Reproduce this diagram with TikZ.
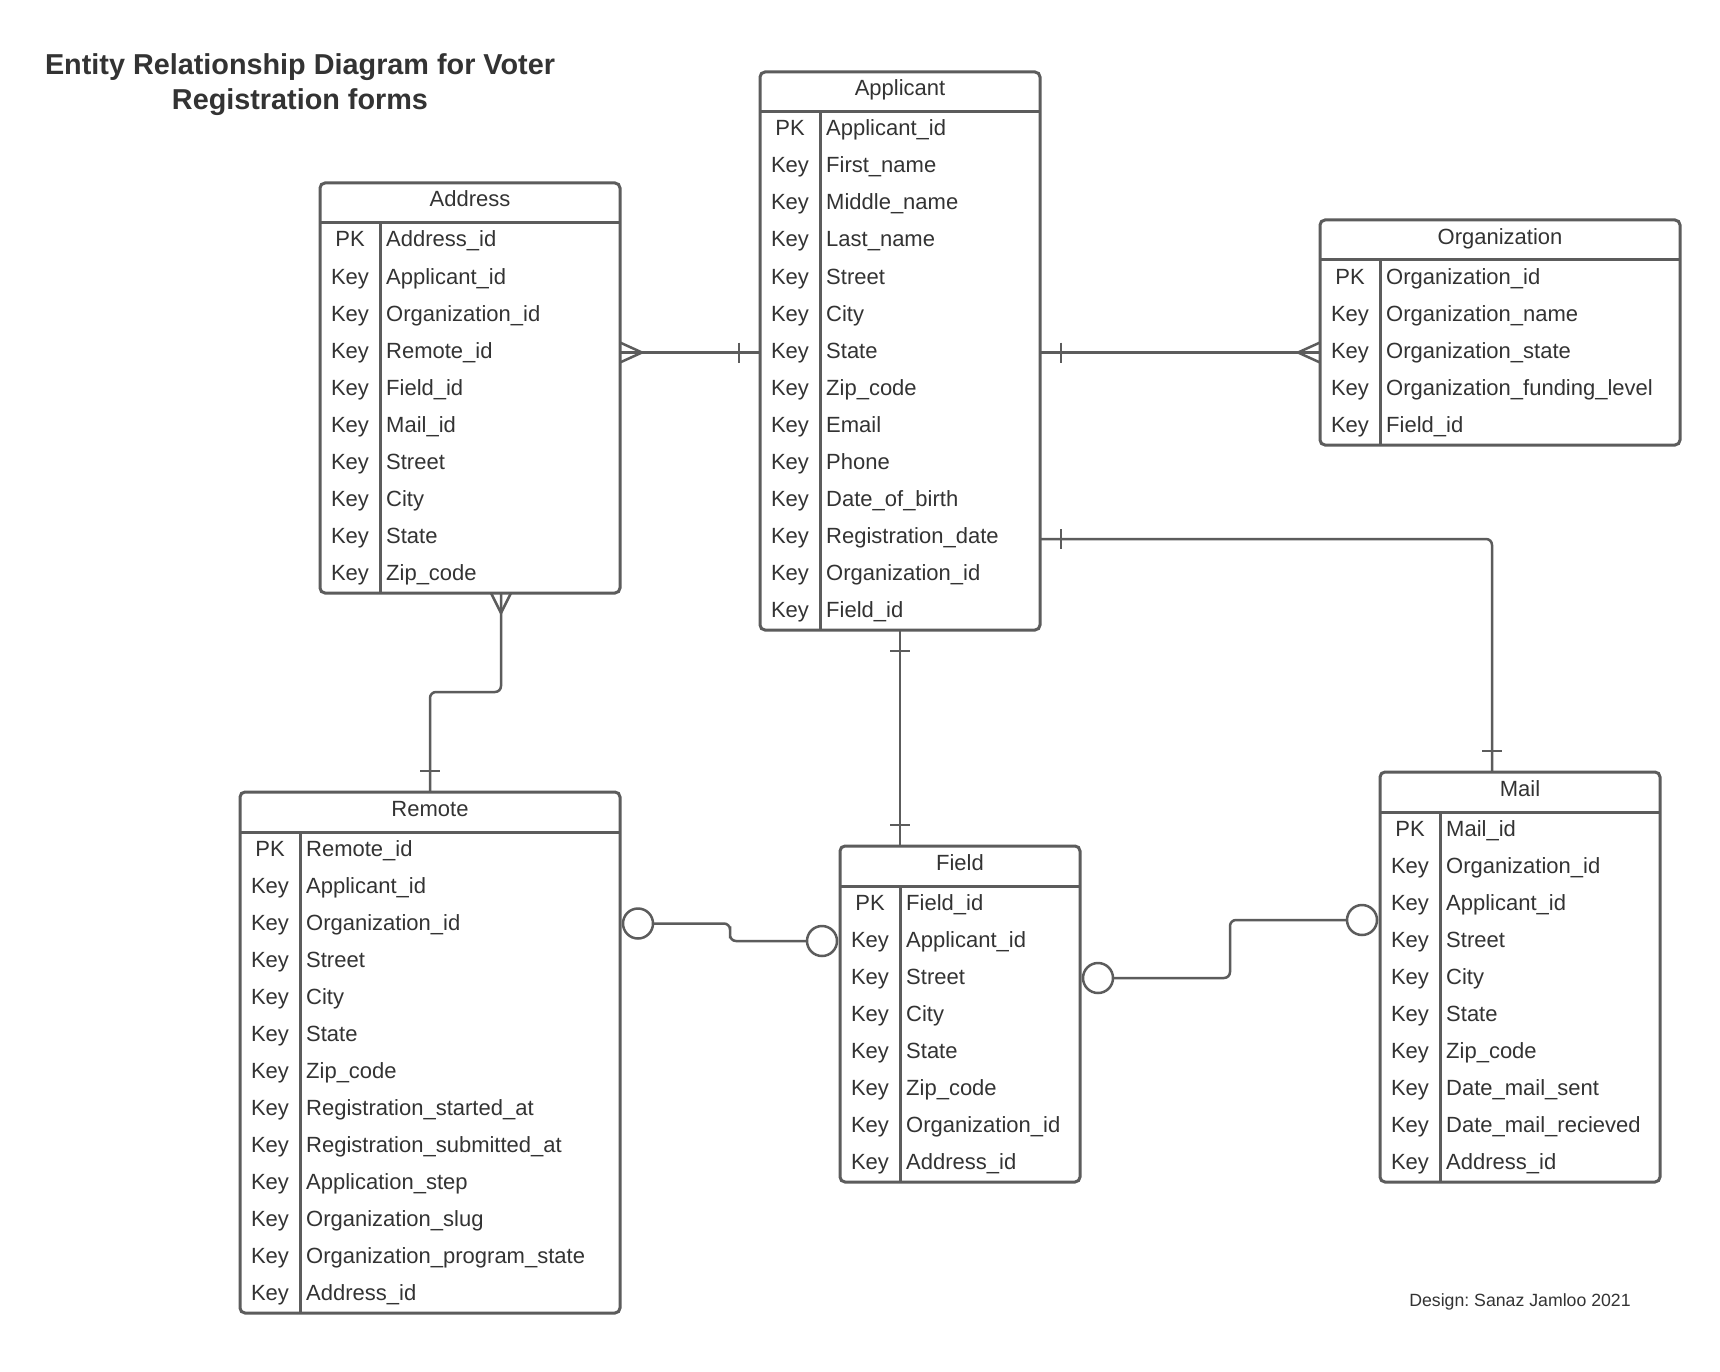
\documentclass[tikz,border=0pt]{standalone}
\usepackage{fontspec}
\setmainfont{Liberation Sans}
\usetikzlibrary{calc}
\frenchspacing
\definecolor{ln}{HTML}{5C5C5C}
\definecolor{tx}{HTML}{333333}
\tikzset{
  tblbox/.style={draw=ln, line width=3pt, rounded corners=5pt, fill=white, inner sep=0pt, outer sep=0pt, anchor=north west},
  sepline/.style={draw=ln, line width=3pt},
  conn/.style={draw=ln, line width=2.5pt, rounded corners=6pt},
  cfoot/.style={draw=ln, line width=2.5pt},
  optc/.style={circle, draw=ln, line width=2.5pt, fill=white, minimum size=30pt, inner sep=0pt, outer sep=0pt},
  celltxt/.style={text=tx, font=\fontsize{22}{26}\selectfont, inner sep=0pt, anchor=base},
  attrtxt/.style={celltxt, anchor=base west},
  titletxt/.style={text=tx, font=\bfseries\fontsize{28.8}{34}\selectfont, inner sep=0pt, anchor=base},
}
% name, x, y, width, rows, title, list
\newcommand\ertable[7]{%
  \node[tblbox, minimum width=#4, minimum height={40+37*#5}] (#1) at (#2,#3) {};
  \draw[sepline] ({#2},{#3+40}) -- ({#2+#4},{#3+40});
  \draw[sepline] ({#2+60},{#3+40}) -- ({#2+60},{#3+40+37*#5});
  \node[celltxt] (#1-t) at ({#2+#4/2},{#3+24}) {#6};
  \foreach \k/\v [count=\i from 0] in {#7} {
    \node[celltxt] (#1-k\i) at ({#2+30},{#3+64+37*\i}) {\k};
    \node[attrtxt] (#1-v\i) at ({#2+66},{#3+64+37*\i}) {\v};
  }%
}
\begin{document}
\begin{tikzpicture}[x=1pt,y=-1pt]
\fill[white] (0,0) rectangle (1720,1372);
\useasboundingbox (0,0) rectangle (1720,1372);

\node[titletxt] (title1) at (300,75) {Entity Relationship Diagram for Voter};
\node[titletxt] (title2) at (300,110) {Registration forms};

\ertable{applicant}{760}{72}{280}{14}{Applicant}{PK/Applicant\_id, Key/First\_name, Key/Middle\_name, Key/Last\_name, Key/Street, Key/City, Key/State, Key/Zip\_code, Key/Email, Key/Phone, Key/Date\_of\_birth, Key/Registration\_date, Key/Organization\_id, Key/Field\_id}
\ertable{address}{320}{183}{300}{10}{Address}{PK/Address\_id, Key/Applicant\_id, Key/Organization\_id, Key/Remote\_id, Key/Field\_id, Key/Mail\_id, Key/Street, Key/City, Key/State, Key/Zip\_code}
\ertable{organization}{1320}{220}{360}{5}{Organization}{PK/Organization\_id, Key/Organization\_name, Key/Organization\_state, Key/Organization\_funding\_level, Key/Field\_id}
\ertable{remote}{240}{792}{380}{13}{Remote}{PK/Remote\_id, Key/Applicant\_id, Key/Organization\_id, Key/Street, Key/City, Key/State, Key/Zip\_code, Key/Registration\_started\_at, Key/Registration\_submitted\_at, Key/Application\_step, Key/Organization\_slug, Key/Organization\_program\_state, Key/Address\_id}
\ertable{field}{840}{846}{240}{8}{Field}{PK/Field\_id, Key/Applicant\_id, Key/Street, Key/City, Key/State, Key/Zip\_code, Key/Organization\_id, Key/Address\_id}
\ertable{mail}{1380}{772}{280}{10}{Mail}{PK/Mail\_id, Key/Organization\_id, Key/Applicant\_id, Key/Street, Key/City, Key/State, Key/Zip\_code, Key/Date\_mail\_sent, Key/Date\_mail\_recieved, Key/Address\_id}

% Address (many) -- Applicant (one)
\coordinate (c1a) at (address.east |- 0,352.5);
\coordinate (c1b) at (applicant.west |- 0,352.5);
\draw[conn] (c1a) -- (c1b);
\draw[cfoot] ($(c1a)+(0,-10)$) -- ($(c1a)+(22,0)$) -- ($(c1a)+(0,10)$);
\draw[cfoot] ($(c1b)+(-21,-10)$) -- ($(c1b)+(-21,10)$);

% Applicant (one) -- Organization (many)
\coordinate (c2a) at (applicant.east |- 0,352.5);
\coordinate (c2b) at (organization.west |- 0,352.5);
\draw[conn] (c2a) -- (c2b);
\draw[cfoot] ($(c2a)+(21,-10)$) -- ($(c2a)+(21,10)$);
\draw[cfoot] ($(c2b)+(0,-10)$) -- ($(c2b)+(-22,0)$) -- ($(c2b)+(0,10)$);

% Applicant (one) -- Mail (one)
\coordinate (c3a) at (applicant.east |- 0,539);
\coordinate (c3b) at (mail.north -| 1492,0);
\draw[conn] (c3a) -| (c3b);
\draw[cfoot] ($(c3a)+(21,-10)$) -- ($(c3a)+(21,10)$);
\draw[cfoot] ($(c3b)+(-10,-21)$) -- ($(c3b)+(10,-21)$);

% Applicant (one) -- Field (one)
\coordinate (c4a) at (applicant.south);
\coordinate (c4b) at (applicant.south |- field.north);
\draw[conn] (c4a) -- (c4b);
\draw[cfoot] ($(c4a)+(-10,21)$) -- ($(c4a)+(10,21)$);
\draw[cfoot] ($(c4b)+(-10,-21)$) -- ($(c4b)+(10,-21)$);

% Address (many) -- Remote (one)
\coordinate (c5a) at (501,0 |- address.south);
\coordinate (c5b) at (remote.north);
\draw[conn] (c5a) -- (c5a |- 0,692) -| (c5b);
\draw[cfoot] ($(c5a)+(-10,0)$) -- ($(c5a)+(0,20)$) -- ($(c5a)+(10,0)$);
\draw[cfoot] ($(c5b)+(-10,-21)$) -- ($(c5b)+(10,-21)$);

% Remote (zero) -- Field (zero)
\node[optc] (o6a) at ($(remote.east |- 0,923.5)+(18,0)$) {};
\node[optc] (o6b) at ($(field.west |- 0,941)+(-18,0)$) {};
\draw[conn] (o6a.east) -| ($(o6a.east)!0.5!(o6b.west)$) |- (o6b.west);

% Field (zero) -- Mail (zero)
\node[optc] (o7a) at ($(field.east |- 0,978)+(18,0)$) {};
\node[optc] (o7b) at ($(mail.west |- 0,920)+(-18,0)$) {};
\draw[conn] (o7a.east) -| ($(o7a.east)!0.5!(o7b.west)$) |- (o7b.west);

\node[text=tx, font=\fontsize{17.7}{21}\selectfont, inner sep=0pt] (credit) at (1520,1302) {Design: Sanaz Jamloo 2021};
\end{tikzpicture}
\end{document}
